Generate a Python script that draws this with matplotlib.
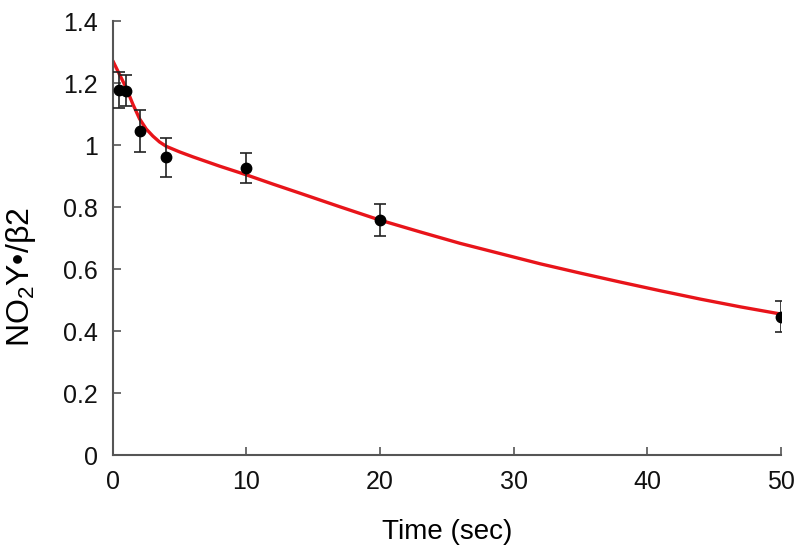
import matplotlib
matplotlib.use("Agg")
import matplotlib.pyplot as plt
from matplotlib.ticker import FuncFormatter

# measured points
time_s = [0.5, 1, 2, 4, 10, 20, 50]
signal = [1.178, 1.175, 1.046, 0.960, 0.925, 0.758, 0.446]
err = [0.058, 0.050, 0.068, 0.063, 0.048, 0.051, 0.050]

# fitted curve
fit_t = [0, 0.25, 0.5, 1, 1.5, 2, 2.5, 3, 3.5, 4, 5, 6, 7, 8, 10, 12, 14,
         17, 20, 23, 26, 29, 32, 35, 38, 41, 44, 47, 50]
fit_y = [1.272, 1.250, 1.228, 1.185, 1.132, 1.085, 1.052, 1.029, 1.010,
         0.996, 0.978, 0.962, 0.947, 0.932, 0.904, 0.874, 0.845, 0.801,
         0.758, 0.720, 0.683, 0.650, 0.617, 0.587, 0.558, 0.530, 0.503,
         0.478, 0.455]

xticks = [0, 10, 20, 30, 40, 50]
yticks = [0, 0.2, 0.4, 0.6, 0.8, 1.0, 1.2, 1.4]

plt.rcParams['font.family'] = ['Liberation Sans', 'DejaVu Sans']
plt.rcParams['mathtext.fontset'] = 'custom'
plt.rcParams['mathtext.rm'] = 'Liberation Sans'
plt.rcParams['mathtext.it'] = 'Liberation Sans'

fig = plt.figure(figsize=(8, 5.55), dpi=100)
ax = fig.add_axes([0.141, 0.180, 0.835, 0.782])

ax.plot(fit_t, fit_y, color='#e8141a', lw=2.4, zorder=2,
        solid_capstyle='round', solid_joinstyle='round')
ax.errorbar(time_s, signal, yerr=err, fmt='o', color='black', ms=7.5,
            ecolor='#222222', elinewidth=1.2, capsize=4, capthick=1.2, zorder=3)

ax.set_xlim(0, 50)
ax.set_ylim(0, 1.4)
ax.set_xticks(xticks)
ax.set_yticks(yticks)
ax.yaxis.set_major_formatter(FuncFormatter(lambda v, p: '%g' % round(v, 2)))

for s in ['top', 'right']:
    ax.spines[s].set_visible(False)
for s in ['left', 'bottom']:
    ax.spines[s].set_color('#555555')
    ax.spines[s].set_linewidth(1.5)

ax.tick_params(direction='in', length=6, width=1.2, color='#555555',
               labelsize=18, colors='#111111')
ax.tick_params(axis='y', pad=11)
ax.tick_params(axis='x', pad=11)

ax.set_xlabel('Time (sec)', fontsize=20, labelpad=18)
ax.set_ylabel('NO$_2$Y•/β2', fontsize=23)
ax.yaxis.set_label_coords(-0.112, 0.41)

fig.savefig('out.png', dpi=100)
